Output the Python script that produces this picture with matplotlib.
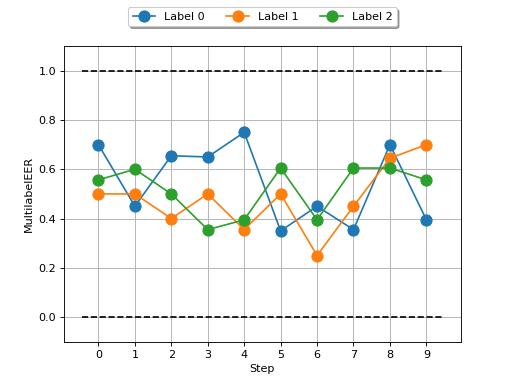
import matplotlib
matplotlib.use("Agg")
import matplotlib.pyplot as plt

steps = list(range(10))
label_0 = [0.70, 0.45, 0.655, 0.65, 0.75, 0.35, 0.45, 0.355, 0.70, 0.395]
label_1 = [0.50, 0.50, 0.40, 0.50, 0.355, 0.50, 0.25, 0.45, 0.645, 0.70]
label_2 = [0.557, 0.60, 0.50, 0.355, 0.395, 0.605, 0.395, 0.605, 0.605, 0.557]
series = {"Label 0": label_0, "Label 1": label_1, "Label 2": label_2}

fig, ax = plt.subplots(figsize=(6.4, 4.8), dpi=80)

for name, vals in series.items():
    ax.plot(steps, vals, marker="o", markersize=10, label=name)

# reference bounds
ax.hlines([0.0, 1.0], -0.45, 9.45, colors="k", linestyles="dashed")

ax.set_ylim(-0.1, 1.1)
ax.set_xticks(steps)
ax.set_xlabel("Step")
ax.set_ylabel("MultilabelEER")
ax.grid(True)
ax.legend(loc="upper center", bbox_to_anchor=(0.5, 1.15), ncol=3,
          fancybox=True, shadow=True)

fig.savefig("out.png")
